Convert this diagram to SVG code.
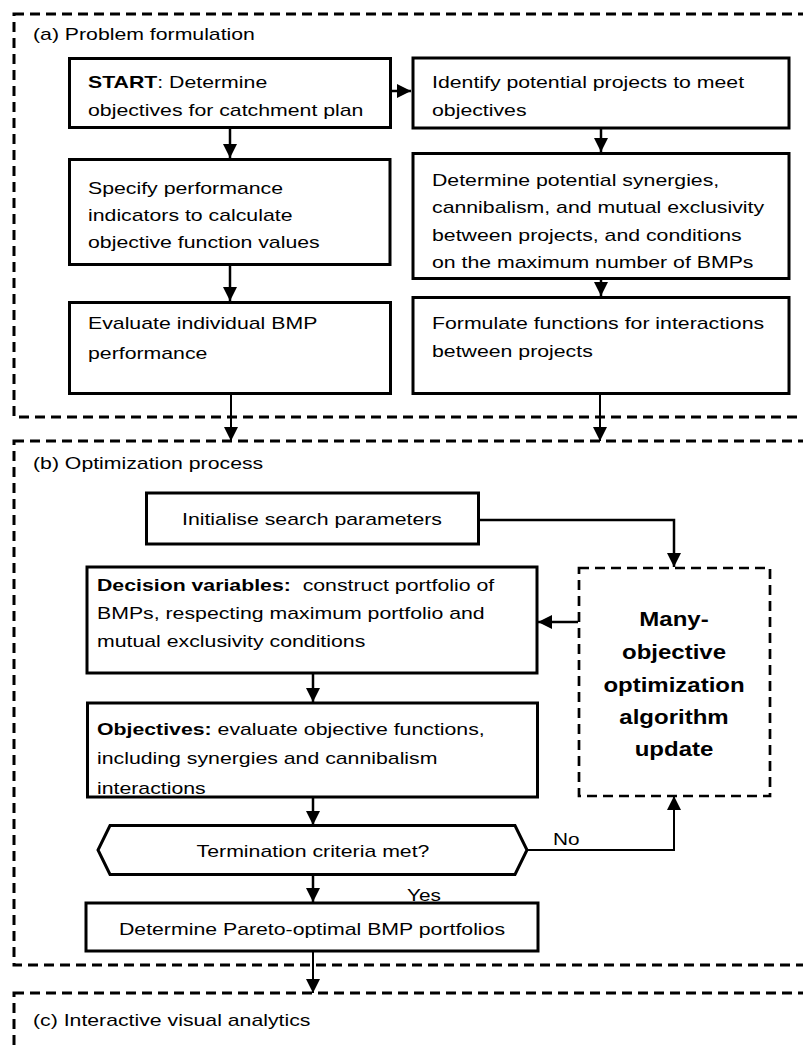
<svg xmlns="http://www.w3.org/2000/svg" width="803" height="1050" viewBox="0 0 803 1050">
  <defs>
    <style>
      .t { font-family: "Liberation Sans", Arial, sans-serif; font-size: 16px; fill: #000; }
      .lbl { font-family: "Liberation Sans", Arial, sans-serif; font-size: 17px; fill: #000; }
      .b { font-weight: bold; }
      .big { font-family: "Liberation Sans", Arial, sans-serif; font-size: 20px; font-weight: bold; fill: #000; }
      .box { fill: #fff; stroke: #000; stroke-width: 3; }
      .frame { fill: none; stroke: #000; stroke-width: 3; stroke-dasharray: 10 6; }
      .dbox { fill: #fff; stroke: #000; stroke-width: 2.7; stroke-dasharray: 10 6; }
      .conn { fill: none; stroke: #000; stroke-width: 2.5; }
      .thin { fill: none; stroke: #000; stroke-width: 2; }
    </style>
    <marker id="ah" markerUnits="userSpaceOnUse" markerWidth="15" markerHeight="15" viewBox="0 0 15 15" refX="14" refY="7.5" orient="auto">
      <path d="M0,0.5 L14,7.5 L0,14.5 z" fill="#000"/>
    </marker>
  </defs>
  <rect width="803" height="1050" fill="#fff"/>

  <!-- section frames -->
  <g id="frames">
    <rect class="frame" x="14" y="14" width="806" height="403"/>
    <rect class="frame" x="14" y="441" width="806" height="524"/>
    <rect class="frame" x="14" y="993" width="806" height="100"/>
    <text class="lbl" transform="translate(33,40) scale(1.25,1)">(a) Problem formulation</text>
    <text class="lbl" transform="translate(33,469) scale(1.25,1)">(b) Optimization process</text>
    <text class="lbl" transform="translate(33,1026) scale(1.25,1)">(c) Interactive visual analytics</text>
  </g>

  <!-- connectors -->
  <g id="connectors">
    <line class="conn" x1="391" y1="91" x2="411" y2="91" marker-end="url(#ah)"/>
    <line class="conn" x1="230" y1="128" x2="230" y2="158" marker-end="url(#ah)"/>
    <line class="conn" x1="230" y1="265" x2="230" y2="301" marker-end="url(#ah)"/>
    <line class="thin" x1="231" y1="394" x2="231" y2="441" marker-end="url(#ah)"/>
    <line class="conn" x1="601" y1="128" x2="601" y2="152" marker-end="url(#ah)"/>
    <line class="conn" x1="601" y1="279" x2="601" y2="296" marker-end="url(#ah)"/>
    <line class="thin" x1="600" y1="394" x2="600" y2="441" marker-end="url(#ah)"/>
    <polyline class="conn" points="479,520 674,520 674,567" marker-end="url(#ah)"/>
    <line class="conn" x1="578" y1="622" x2="538" y2="622" marker-end="url(#ah)"/>
    <line class="conn" x1="313" y1="673" x2="313" y2="702" marker-end="url(#ah)"/>
    <line class="conn" x1="313" y1="797" x2="313" y2="825" marker-end="url(#ah)"/>
    <polyline class="thin" points="527,850 674,850 674,796" marker-end="url(#ah)"/>
    <line class="conn" x1="313" y1="874" x2="313" y2="902" marker-end="url(#ah)"/>
    <line class="thin" x1="313" y1="951" x2="313" y2="993" marker-end="url(#ah)"/>
    <text class="t" transform="translate(553,845) scale(1.3,1)">No</text>
    <text class="t" transform="translate(407,901) scale(1.3,1)">Yes</text>
  </g>

  <!-- (a) problem formulation -->
  <g id="start">
    <rect class="box" x="69.5" y="58.5" width="321" height="69"/>
    <text class="t" transform="translate(88,88) scale(1.33,1)"><tspan class="b">START</tspan>: Determine<tspan x="0" dy="28">objectives for catchment plan</tspan></text>
  </g>
  <g id="identify-projects">
    <rect class="box" x="413" y="58" width="376" height="70"/>
    <text class="t" transform="translate(432,88) scale(1.33,1)">Identify potential projects to meet<tspan x="0" dy="28">objectives</tspan></text>
  </g>
  <g id="performance-indicators">
    <rect class="box" x="69.5" y="159.5" width="320.5" height="105"/>
    <text class="t" transform="translate(88,194) scale(1.33,1)">Specify performance<tspan x="0" dy="27">indicators to calculate</tspan><tspan x="0" dy="27">objective function values</tspan></text>
  </g>
  <g id="synergies">
    <rect class="box" x="413" y="153.5" width="376" height="125"/>
    <text class="t" transform="translate(432,186) scale(1.33,1)">Determine potential synergies,<tspan x="0" dy="27.5">cannibalism, and mutual exclusivity</tspan><tspan x="0" dy="27.5">between projects, and conditions</tspan><tspan x="0" dy="27.5">on the maximum number of BMPs</tspan></text>
  </g>
  <g id="evaluate-bmp">
    <rect class="box" x="69.5" y="302.5" width="321" height="91"/>
    <text class="t" transform="translate(88,329) scale(1.33,1)">Evaluate individual BMP<tspan x="0" dy="30">performance</tspan></text>
  </g>
  <g id="interaction-functions">
    <rect class="box" x="413" y="297.5" width="376" height="96"/>
    <text class="t" transform="translate(432,329) scale(1.33,1)">Formulate functions for interactions<tspan x="0" dy="28">between projects</tspan></text>
  </g>

  <!-- (b) optimization process -->
  <g id="initialise">
    <rect class="box" x="146.5" y="493" width="332" height="51"/>
    <text class="t" text-anchor="middle" transform="translate(312,525) scale(1.33,1)">Initialise search parameters</text>
  </g>
  <g id="decision-variables">
    <rect class="box" x="87" y="567" width="450" height="106"/>
    <text class="t" transform="translate(97,591) scale(1.33,1)"><tspan class="b">Decision variables:</tspan> &#160;construct portfolio of<tspan x="0" dy="28">BMPs, respecting maximum portfolio and</tspan><tspan x="0" dy="28">mutual exclusivity conditions</tspan></text>
  </g>
  <g id="objectives">
    <rect class="box" x="87.5" y="703" width="450" height="94"/>
    <text class="t" transform="translate(97,735) scale(1.33,1)"><tspan class="b">Objectives:</tspan> evaluate objective functions,<tspan x="0" dy="29">including synergies and cannibalism</tspan><tspan x="0" dy="30">interactions</tspan></text>
  </g>
  <g id="termination">
    <polygon class="box" points="110,825.5 515,825.5 527,850 515,874.5 110,874.5 98,850"/>
    <text class="t" text-anchor="middle" transform="translate(313,857) scale(1.33,1)">Termination criteria met?</text>
  </g>
  <g id="pareto">
    <rect class="box" x="86" y="903" width="452" height="48"/>
    <text class="t" text-anchor="middle" transform="translate(312,935) scale(1.33,1)">Determine Pareto-optimal BMP portfolios</text>
  </g>
  <g id="algorithm-update">
    <rect class="dbox" x="579" y="568" width="191" height="228"/>
    <text class="big" text-anchor="middle" transform="translate(674,626) scale(1.2,1)">Many-<tspan x="0" dy="33">objective</tspan><tspan x="0" dy="33">optimization</tspan><tspan x="0" dy="32">algorithm</tspan><tspan x="0" dy="32">update</tspan></text>
  </g>
</svg>
